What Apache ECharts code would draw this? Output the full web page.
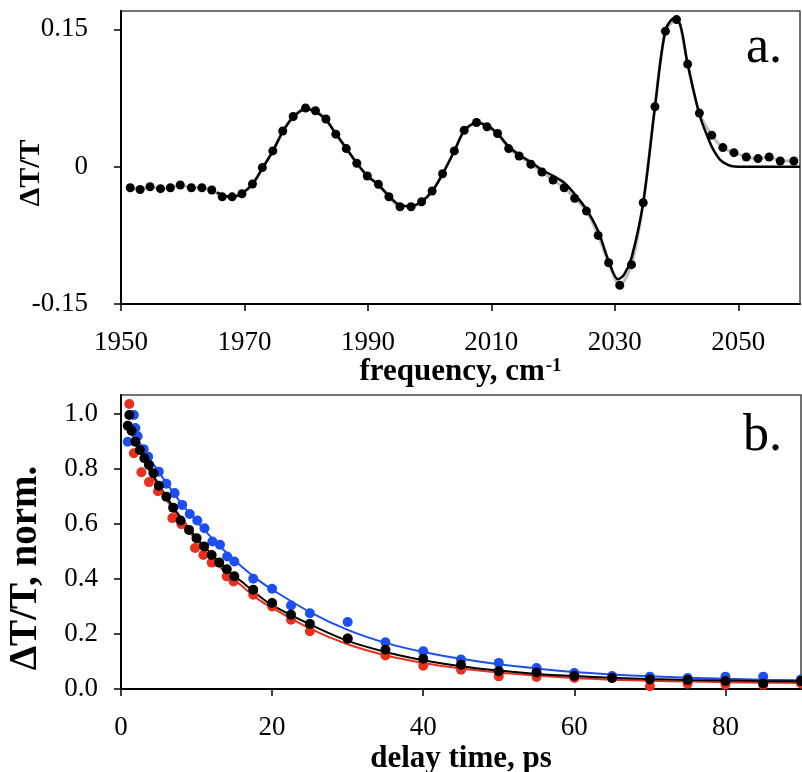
<!DOCTYPE html>
<html>
<head>
<meta charset="utf-8">
<script src="https://cdn.jsdelivr.net/npm/echarts@6/dist/echarts.min.js"></script>
<style>html,body{margin:0;padding:0;background:#fff;}#c{width:802px;height:772px;}</style>
</head>
<body>
<div id="c"></div>
<script>
// ---------- panel a: spectrum ----------
const specFreq = [1951.5,1953.1,1954.7,1956.4,1958.0,1959.6,1961.4,1963.1,1964.7,1966.4,1968.0,1969.6,1971.3,1972.9,1974.6,1976.2,1977.9,1979.9,1981.5,1983.2,1984.8,1986.5,1988.2,1989.9,1991.7,1993.4,1995.2,1997.0,1998.7,2000.4,2002.1,2004.0,2005.6,2007.6,2009.3,2011.0,2012.8,2014.5,2016.4,2018.2,2020.0,2021.8,2023.5,2025.4,2027.3,2029.0,2030.8,2032.7,2034.6,2036.5,2038.2,2040.0,2041.8,2043.7,2045.7,2047.5,2049.3,2051.3,2053.2,2055.0,2056.8,2059.0];
const specVal = [-0.023,-0.025,-0.022,-0.024,-0.023,-0.020,-0.023,-0.023,-0.0255,-0.033,-0.033,-0.0296,-0.019,-0.001,0.0172,0.039,0.0548,0.064,0.061,0.052,0.0355,0.0197,0.0037,-0.0102,-0.0193,-0.0329,-0.0438,-0.0438,-0.0383,-0.0266,-0.0077,0.0172,0.0398,0.0482,0.0435,0.0362,0.0197,0.0117,0.0026,-0.0058,-0.0146,-0.023,-0.0346,-0.0485,-0.0751,-0.105,-0.1295,-0.107,-0.0394,0.0654,0.148,0.1606,0.112,0.0585,0.0344,0.0208,0.0153,0.0106,0.0088,0.0106,0.0062,0.0062];
const fitFreq = [1965.5,1967.0,1968.0,1969.6,1971.3,1972.9,1974.6,1976.2,1977.9,1979.9,1981.5,1983.2,1984.8,1986.5,1988.2,1989.9,1991.7,1993.4,1995.2,1997.0,1998.7,2000.4,2002.1,2004.0,2005.6,2007.6,2009.3,2011.0,2012.8,2014.5,2016.4,2018.2,2020.0,2021.8,2023.5,2025.4,2027.3,2029.0,2030.5,2031.5,2032.7,2034.6,2036.5,2038.2,2039.6,2040.6,2041.8,2043.7,2045.0,2046.0,2047.0,2048.0,2049.0,2050.0,2060.0];
const fitVal = [-0.028,-0.032,-0.033,-0.029,-0.019,-0.002,0.017,0.038,0.054,0.063,0.060,0.051,0.036,0.020,0.004,-0.010,-0.020,-0.032,-0.042,-0.043,-0.038,-0.027,-0.008,0.017,0.039,0.048,0.045,0.036,0.022,0.013,0.005,-0.0036,-0.010,-0.0175,-0.030,-0.0467,-0.0704,-0.103,-0.123,-0.118,-0.0996,-0.0394,0.065,0.149,0.162,0.155,0.112,0.057,0.033,0.018,0.008,0.003,0.0005,0,0];
const topXTicks = [1950,1970,1990,2010,2030,2050];
const topYTicks = [-0.15,0,0.15];

// ---------- panel b: kinetics ----------
const blackT = [0.9,1.1,1.4,1.9,2.5,3.1,3.7,4.3,5.0,6.0,6.9,7.9,9.0,10.0,11.0,12.0,13.0,14.0,15.0,17.5,20,22.5,25,30,35,40,45,50,55,60,65,70,75,80,85,90];
const blackV = [0.958,0.997,0.94,0.90,0.87,0.84,0.815,0.785,0.74,0.70,0.66,0.613,0.579,0.549,0.519,0.488,0.46,0.436,0.41,0.361,0.313,0.27,0.237,0.183,0.143,0.11,0.088,0.065,0.06,0.047,0.04,0.035,0.033,0.029,0.02,0.029];
const redT = [1.1,1.7,2.7,3.7,4.9,6.8,8.0,9.8,10.9,12.0,14.0,14.9,17.5,20,22.5,25,30,35,40,45,50,55,60,65,70,75,80,85,90];
const redV = [1.037,0.858,0.789,0.753,0.72,0.622,0.60,0.513,0.488,0.46,0.41,0.391,0.343,0.30,0.252,0.21,0.185,0.122,0.085,0.07,0.046,0.044,0.04,0.04,0.01,0.019,0.016,0.015,0.02];
const blueT = [0.9,1.7,1.9,2.2,3.0,3.6,5.0,6.0,7.1,8.1,9.1,10.1,11.05,12.1,13.1,14.05,15.0,17.5,20,22.5,25,30,35,40,45,50,55,60,65,70,75,80,85,90];
const blueV = [0.90,0.997,0.95,0.92,0.873,0.845,0.791,0.747,0.713,0.67,0.637,0.613,0.585,0.537,0.525,0.482,0.464,0.401,0.365,0.304,0.276,0.244,0.17,0.137,0.107,0.095,0.076,0.058,0.047,0.045,0.04,0.045,0.045,0.035];
const fitT = [0.9,2,3,4,5,6,8,10,12,14,16,18,20,25,30,35,40,45,50,55,60,65,70,75,80,85,90];
const blueFit = [0.97,0.92,0.87,0.83,0.79,0.75,0.675,0.61,0.55,0.495,0.445,0.40,0.362,0.28,0.215,0.168,0.135,0.11,0.09,0.075,0.062,0.053,0.046,0.041,0.037,0.034,0.032];
const blackFit = [0.97,0.90,0.845,0.79,0.745,0.70,0.62,0.55,0.49,0.435,0.39,0.345,0.305,0.235,0.175,0.135,0.105,0.083,0.067,0.055,0.047,0.041,0.036,0.033,0.031,0.029,0.028];
const redFit = [0.96,0.89,0.835,0.78,0.735,0.69,0.61,0.54,0.475,0.42,0.375,0.33,0.295,0.22,0.163,0.123,0.095,0.075,0.06,0.049,0.04,0.034,0.03,0.027,0.025,0.023,0.022];
const botXTicks = [0,20,40,60,80];
const botYTicks = [0,0.2,0.4,0.6,0.8,1.0];

const zip = (a, b) => a.map((v, i) => [v, b[i]]);
const FONT = 'Liberation Serif';
const RED = '#e8301c', BLUE = '#1d4ff0', BLACK = '#000';

function xAxisCfg(idx, min, max, interval, ticks, name, gap) {
  return {
    type: 'value', gridIndex: idx, min, max, interval,
    name, nameLocation: 'middle', nameGap: gap,
    nameTextStyle: { fontFamily: FONT, fontSize: 31, fontWeight: 'bold', color: '#000',
      rich: { t: { fontFamily: FONT, fontSize: 31, fontWeight: 'bold', color: '#000' },
              s: { fontFamily: FONT, fontSize: 19, fontWeight: 'bold', color: '#000', verticalAlign: 'top', padding: [0, 0, 12, 1] } } },
    axisLine: { show: true, onZero: false, lineStyle: { color: '#000', width: 2 } },
    axisTick: { show: true, inside: false, length: 7, customValues: ticks, lineStyle: { color: '#000', width: 1.5 } },
    axisLabel: { customValues: ticks, formatter: v => String(v), margin: 25, fontFamily: FONT, fontSize: 27, color: '#000' },
    splitLine: { show: false }
  };
}
function yAxisCfg(idx, min, max, interval, ticks, fmt, margin) {
  return {
    type: 'value', gridIndex: idx, min, max, interval,
    axisLine: { show: true, onZero: false, lineStyle: { color: '#000', width: 2 } },
    axisTick: { show: true, inside: false, length: 7, customValues: ticks, lineStyle: { color: '#000', width: 1.5 } },
    axisLabel: { customValues: ticks, formatter: fmt, margin, fontFamily: FONT, fontSize: 27, color: '#000' },
    splitLine: { show: false }
  };
}

const gridBase = { show: true, borderColor: '#444', borderWidth: 1.5, backgroundColor: 'transparent', containLabel: false, outerBoundsMode: 'none' };

const chart = echarts.init(document.getElementById('c'), null, { renderer: 'canvas' });
chart.setOption({
  animation: false,
  backgroundColor: '#fff',
  grid: [
    Object.assign({ left: 121, top: 11, width: 679, height: 293 }, gridBase),
    Object.assign({ left: 121, top: 395, width: 680, height: 294 }, gridBase)
  ],
  xAxis: [
    xAxisCfg(0, 1950, 2060, 20, topXTicks, '{t|frequency, cm}{s|-1}', 46),
    xAxisCfg(1, 0, 90, 20, botXTicks, 'delay time, ps', 54)
  ],
  yAxis: [
    yAxisCfg(0, -0.15, 0.17, 0.15, topYTicks, v => String(v), 33),
    yAxisCfg(1, 0, 1.07, 0.2, botYTicks, v => v.toFixed(1), 23)
  ],
  graphic: [
    { type: 'text', x: 31, y: 173, rotation: Math.PI / 2,
      style: { text: 'ΔT/T', fontFamily: FONT, fontSize: 30, fontWeight: 'bold', fill: '#000', align: 'center', verticalAlign: 'middle' } },
    { type: 'text', x: 26, y: 568, rotation: Math.PI / 2,
      style: { text: 'ΔT/T, norm.', fontFamily: FONT, fontSize: 39, fontWeight: 'bold', fill: '#000', align: 'center', verticalAlign: 'middle' } },
    { type: 'text', left: 746, top: 22, style: { text: 'a.', fontFamily: FONT, fontSize: 52, fill: '#000' } },
    { type: 'text', left: 743, top: 410, style: { text: 'b.', fontFamily: FONT, fontSize: 52, fill: '#000' } }
  ],
  series: [
    { type: 'line', xAxisIndex: 0, yAxisIndex: 0, data: zip(specFreq, specVal), showSymbol: false, smooth: 0.3,
      lineStyle: { color: '#bdbdbd', width: 3 }, z: 1 },
    { type: 'line', xAxisIndex: 0, yAxisIndex: 0, data: zip(fitFreq, fitVal), showSymbol: false, smooth: 0.3,
      lineStyle: { color: '#000', width: 2.5 }, z: 2 },
    { type: 'scatter', xAxisIndex: 0, yAxisIndex: 0, data: zip(specFreq, specVal), symbolSize: 9,
      itemStyle: { color: '#000', opacity: 1 }, z: 3 },

    { type: 'line', xAxisIndex: 1, yAxisIndex: 1, data: zip(fitT, blueFit), showSymbol: false, smooth: 0.3,
      lineStyle: { color: BLUE, width: 2 }, z: 1 },
    { type: 'line', xAxisIndex: 1, yAxisIndex: 1, data: zip(fitT, redFit), showSymbol: false, smooth: 0.3,
      lineStyle: { color: RED, width: 2 }, z: 1 },
    { type: 'line', xAxisIndex: 1, yAxisIndex: 1, data: zip(fitT, blackFit), showSymbol: false, smooth: 0.3,
      lineStyle: { color: BLACK, width: 2 }, z: 1 },
    { type: 'scatter', xAxisIndex: 1, yAxisIndex: 1, data: zip(blueT, blueV), symbolSize: 10,
      itemStyle: { color: BLUE, opacity: 1 }, z: 2 },
    { type: 'scatter', xAxisIndex: 1, yAxisIndex: 1, data: zip(redT, redV), symbolSize: 10,
      itemStyle: { color: RED, opacity: 1 }, z: 3 },
    { type: 'scatter', xAxisIndex: 1, yAxisIndex: 1, data: zip(blackT, blackV), symbolSize: 10,
      itemStyle: { color: BLACK, opacity: 1 }, z: 4 }
  ]
});
</script>
</body>
</html>
